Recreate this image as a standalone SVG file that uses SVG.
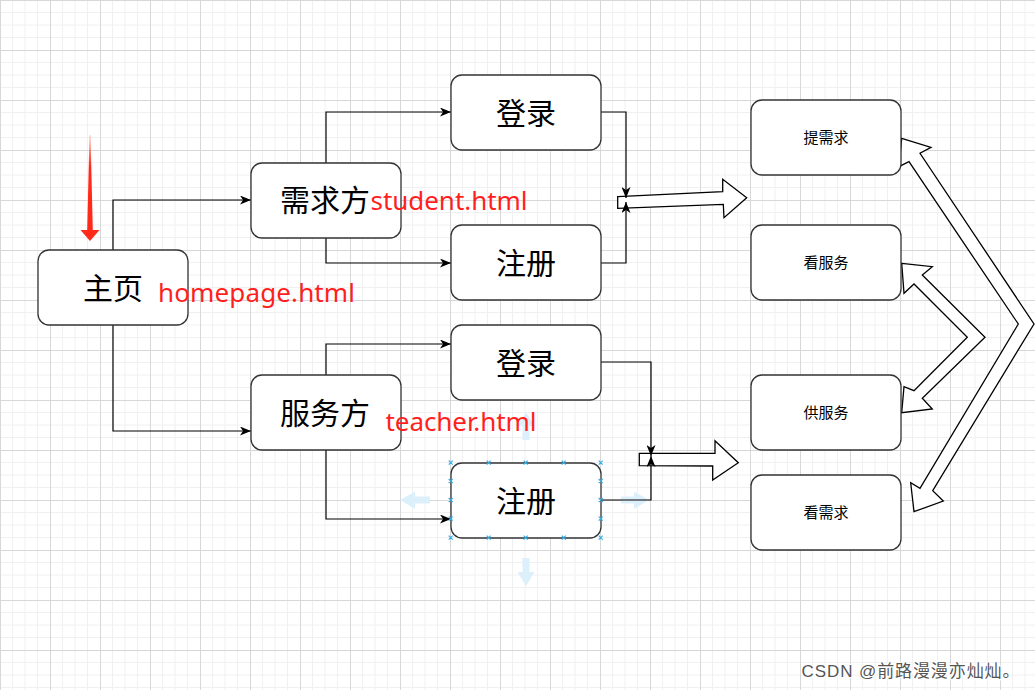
<svg xmlns="http://www.w3.org/2000/svg" width="1035" height="690" viewBox="0 0 1035 690">
<style>
.box{fill:#fff;stroke:#333;stroke-width:1.3}
.big{font-family:"Noto Sans CJK SC","Noto Sans",sans-serif;font-size:30px;fill:#000;text-anchor:middle}
.small{font-family:"Noto Sans CJK SC","Noto Sans",sans-serif;font-size:15px;fill:#000;text-anchor:middle}
.red{font-family:"Noto Sans","Liberation Sans",sans-serif;font-size:26px;fill:#ff1f1f}
.conn{fill:none;stroke:#000;stroke-width:1.2}
.blk{fill:#fff;stroke:#000;stroke-width:1.3;stroke-linejoin:miter}
.hdl{stroke:#33aee8;stroke-width:1.2;fill:none}
.hint{fill:#dcf0fb}
</style>
<defs>
<pattern id="grid" width="50" height="50" patternUnits="userSpaceOnUse">
<path d="M12.5 0V50M25 0V50M37.5 0V50M0 12.5H50M0 25H50M0 37.5H50" stroke="#f0f0f0" stroke-width="1"/>
<path d="M0.5 0V50M0 0.5H50" stroke="#d7d7d7" stroke-width="1"/>
</pattern>
<marker id="arr" viewBox="0 0 11 9" refX="11" refY="4.5" markerWidth="11" markerHeight="9" orient="auto" markerUnits="userSpaceOnUse">
<path d="M0,0 L11,4.5 L0,9 L3,4.5 z" fill="#000"/>
</marker>
<linearGradient id="redg" x1="0" y1="135" x2="0" y2="241" gradientUnits="userSpaceOnUse">
<stop offset="0" stop-color="#ff2a1a" stop-opacity="0.25"/>
<stop offset="0.3" stop-color="#ff2a1a" stop-opacity="1"/>
<stop offset="1" stop-color="#ff2a1a" stop-opacity="1"/>
</linearGradient>
</defs>
<rect x="0" y="0" width="1035" height="690" fill="#fff"/>
<rect x="0" y="0" width="1035" height="690" fill="url(#grid)"/>

<g id="hints">
<path class="hint" d="M400,500 L415,491.5 L415,496.5 L430,496.5 L430,503.5 L415,503.5 L415,509 Z"/>
<path class="hint" d="M649,500 L634,491.5 L634,496.5 L621,496.5 L621,503.5 L634,503.5 L634,509 Z"/>
<path class="hint" d="M526,586 L517.5,572 L522.5,572 L522.5,558 L529.5,558 L529.5,572 L534.5,572 Z"/>
<path class="hint" d="M526,412 L517.5,426 L522.5,426 L522.5,440 L529.5,440 L529.5,426 L534.5,426 Z"/>
</g>

<g id="block-arrows">
<polygon class="blk" points="617.7,196.7 722.7,191.7 722.7,179.3 746.7,197.7 724,217.7 723.3,204.3 617.7,208.3"/>
<polygon class="blk" points="639.3,453.3 715,453.3 715,440.7 738.3,462.7 712.7,480 712.7,466 639.3,465.7"/>
<polygon class="blk" points="901.7,138.3 931,147.3 920,153.3 1034,324 932.7,490.7 943.3,501 914,511.7 910.7,482.7 920,488.3 1018.3,324 909,161.7 899,166.7"/>
<polygon class="blk" points="901.7,263.3 932.3,266.7 922.3,275 985,337.3 922.3,398.3 932.3,409 901.7,412.7 904,386.7 914,390.7 967.3,337.3 914,284 904,293.3"/>
</g>

<g id="connectors">
<path class="conn" d="M113,250 V200 H251" marker-end="url(#arr)"/>
<path class="conn" d="M113,325 V431 H251" marker-end="url(#arr)"/>
<path class="conn" d="M326,163 V112 H451" marker-end="url(#arr)"/>
<path class="conn" d="M326,238 V263 H451" marker-end="url(#arr)"/>
<path class="conn" d="M326,375 V344 H451" marker-end="url(#arr)"/>
<path class="conn" d="M326,450 V519 H451" marker-end="url(#arr)"/>
<path class="conn" d="M601,112 H626 V198" marker-end="url(#arr)"/>
<path class="conn" d="M601,263 H626 V202" marker-end="url(#arr)"/>
<path class="conn" d="M601,362 H651 V456" marker-end="url(#arr)"/>
<path class="conn" d="M601,500 H651 V456" marker-end="url(#arr)"/>
</g>

<g id="start-arrow">
<polygon points="89.5,135 90.5,135 92.8,230 99.5,230 90,241 80.5,230 87.2,230" fill="url(#redg)"/>
</g>

<g id="node-home">
<rect class="box" x="38" y="250" width="150" height="75" rx="11"/>
<text class="big" x="113" y="298.5">主页</text>
</g>
<g id="node-demand">
<rect class="box" x="251" y="163" width="150" height="75" rx="11"/>
<text class="big" x="325" y="211">需求方</text>
</g>
<g id="node-service">
<rect class="box" x="251" y="375" width="150" height="75" rx="11"/>
<text class="big" x="325" y="423.5">服务方</text>
</g>
<g id="node-login1">
<rect class="box" x="451" y="75" width="150" height="75" rx="11"/>
<text class="big" x="526" y="123.5">登录</text>
</g>
<g id="node-reg1">
<rect class="box" x="451" y="225" width="150" height="75" rx="11"/>
<text class="big" x="526" y="273.5">注册</text>
</g>
<g id="node-login2">
<rect class="box" x="451" y="325" width="150" height="75" rx="11"/>
<text class="big" x="526" y="373.5">登录</text>
</g>
<g id="node-reg2">
<rect class="box" x="451" y="463" width="150" height="75" rx="11"/>
<text class="big" x="526" y="511.5">注册</text>
</g>
<g id="node-r1">
<rect class="box" x="751" y="100" width="150" height="75" rx="11"/>
<text class="small" x="826" y="143">提需求</text>
</g>
<g id="node-r2">
<rect class="box" x="751" y="225" width="150" height="75" rx="11"/>
<text class="small" x="826" y="268">看服务</text>
</g>
<g id="node-r3">
<rect class="box" x="751" y="375" width="150" height="75" rx="11"/>
<text class="small" x="826" y="418">供服务</text>
</g>
<g id="node-r4">
<rect class="box" x="751" y="475" width="150" height="75" rx="11"/>
<text class="small" x="826" y="518">看需求</text>
</g>

<g id="labels">
<text class="red" x="158" y="302" textLength="197">homepage.html</text>
<text class="red" x="370.5" y="209.5" textLength="157">student.html</text>
<text class="red" x="385.5" y="431" textLength="151">teacher.html</text>
</g>

<g id="handles">
<path class="hdl" d="M448.7,460.7l4,4m0,-4l-4,4 M486.7,460.7l4,4m0,-4l-4,4 M523.7,460.7l4,4m0,-4l-4,4 M561.7,460.7l4,4m0,-4l-4,4 M598.7,460.7l4,4m0,-4l-4,4
M448.7,535.7l4,4m0,-4l-4,4 M486.7,535.7l4,4m0,-4l-4,4 M523.7,535.7l4,4m0,-4l-4,4 M561.7,535.7l4,4m0,-4l-4,4 M598.7,535.7l4,4m0,-4l-4,4
M448.7,479l4,4m0,-4l-4,4 M448.7,498l4,4m0,-4l-4,4 M448.7,516.7l4,4m0,-4l-4,4
M598.7,479l4,4m0,-4l-4,4 M598.7,498l4,4m0,-4l-4,4 M598.7,516.7l4,4m0,-4l-4,4"/>
</g>

<text x="801.5" y="677" font-family="'Liberation Sans','Noto Sans CJK SC',sans-serif" font-size="17" fill="#555" stroke="#fff" stroke-width="2.5" paint-order="stroke" textLength="218">CSDN @前路漫漫亦灿灿。</text>
</svg>
